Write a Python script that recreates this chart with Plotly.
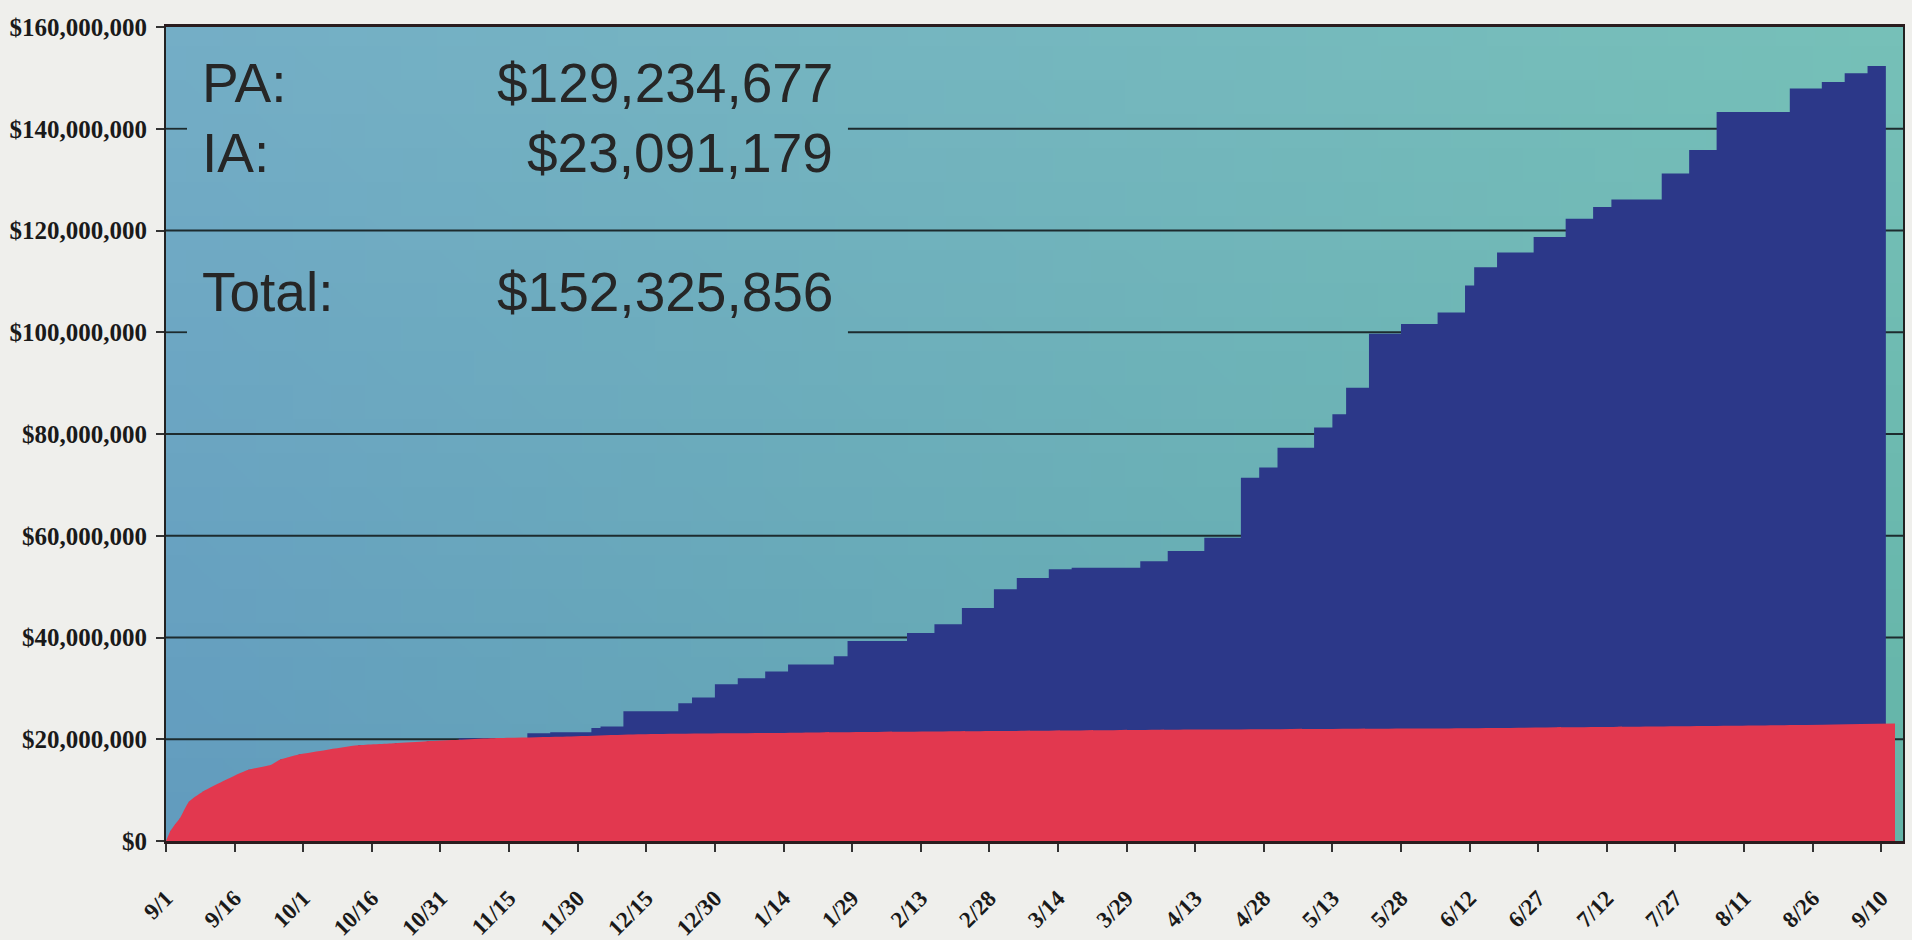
import base64
import struct
import zlib

import plotly.graph_objects as go

# Cumulative obligations (millions of dollars), step changes of the running total
total_dates = [
    "2003-09-01", "2003-09-02", "2003-09-03", "2003-09-04", "2003-09-06", "2003-09-09",
    "2003-09-14", "2003-09-19", "2003-09-24", "2003-09-26", "2003-09-30", "2003-10-06",
    "2003-10-13", "2003-10-21", "2003-10-28", "2003-11-04", "2003-11-19", "2003-11-24",
    "2003-12-03", "2003-12-05", "2003-12-10", "2003-12-22", "2003-12-25", "2003-12-30",
    "2004-01-04", "2004-01-10", "2004-01-15", "2004-01-25", "2004-01-28", "2004-02-10",
    "2004-02-16", "2004-02-22", "2004-02-29", "2004-03-05", "2004-03-12", "2004-03-17",
    "2004-04-01", "2004-04-07", "2004-04-15", "2004-04-23", "2004-04-27", "2004-05-01",
    "2004-05-09", "2004-05-13", "2004-05-16", "2004-05-21", "2004-05-28", "2004-06-05",
    "2004-06-11", "2004-06-13", "2004-06-18", "2004-06-26", "2004-07-03", "2004-07-09",
    "2004-07-13", "2004-07-24", "2004-07-30", "2004-08-05", "2004-08-21", "2004-08-28",
    "2004-09-02", "2004-09-07", "2004-09-11",
]
total_musd = [
    0.0, 2.0, 3.3, 4.4, 7.7, 9.7,
    12.0, 14.0, 14.6, 16.0, 17.0, 17.9,
    18.8, 19.2, 19.6, 20.2, 21.2, 21.4,
    22.2, 22.5, 25.5, 27.1, 28.2, 30.8,
    32.0, 33.3, 34.7, 36.3, 39.3, 40.9,
    42.6, 45.8, 49.5, 51.7, 53.4, 53.7,
    55.0, 57.0, 59.6, 71.4, 73.4, 77.3,
    81.3, 83.9, 89.1, 99.7, 101.6, 103.9,
    109.2, 112.8, 115.7, 118.7, 122.3, 124.6,
    126.1, 131.2, 135.8, 143.3, 147.9, 149.2,
    150.9, 152.325856, 152.325856,
]

# Individual Assistance (IA), cumulative, millions of dollars
ia_dates = [
    "2003-09-01", "2003-09-02", "2003-09-03", "2003-09-04", "2003-09-06", "2003-09-09",
    "2003-09-14", "2003-09-19", "2003-09-24", "2003-09-26", "2003-09-30", "2003-10-06",
    "2003-10-13", "2003-10-21", "2003-10-28", "2003-11-04", "2003-11-11", "2003-11-26",
    "2003-12-14", "2004-01-18", "2004-03-01", "2004-04-14", "2004-05-31", "2004-07-10",
    "2004-08-23", "2004-09-13",
]
ia_musd = [
    0.0, 2.0, 3.3, 4.4, 7.7, 9.7,
    12.0, 14.0, 15.0, 16.0, 17.0, 17.9,
    18.8, 19.2, 19.6, 19.9, 20.2, 20.5,
    21.0, 21.3, 21.6, 21.9, 22.1, 22.4,
    22.8, 23.091179,
]

tick_dates = [
    "2003-09-01", "2003-09-16", "2003-10-01", "2003-10-16", "2003-10-31", "2003-11-15",
    "2003-11-30", "2003-12-15", "2003-12-30", "2004-01-14", "2004-01-29", "2004-02-13",
    "2004-02-28", "2004-03-14", "2004-03-29", "2004-04-13", "2004-04-28", "2004-05-13",
    "2004-05-28", "2004-06-12", "2004-06-27", "2004-07-12", "2004-07-27", "2004-08-11",
    "2004-08-26", "2004-09-10",
]
tick_labels = [
    "9/1", "9/16", "10/1", "10/16", "10/31", "11/15", "11/30", "12/15", "12/30",
    "1/14", "1/29", "2/13", "2/28", "3/14", "3/29", "4/13", "4/28", "5/13", "5/28",
    "6/12", "6/27", "7/12", "7/27", "8/11", "8/26", "9/10",
]
y_ticks = [0, 20e6, 40e6, 60e6, 80e6, 100e6, 120e6, 140e6, 160e6]

RED = "#e2384f"
NAVY = "#2c3889"
INK = "#262626"
X_END = "2004-09-14 18:00"

total_usd = [v * 1e6 for v in total_musd]
ia_usd = [v * 1e6 for v in ia_musd]
total_final = round(total_usd[-1])
ia_final = round(ia_usd[-1])
pa_final = total_final - ia_final


def gradient_png(w, h, tl, tr, bl, br):
    """Small RGB PNG with a bilinear corner-colour blend, as a data URI."""
    raw = bytearray()
    for j in range(h):
        fy = j / (h - 1)
        raw.append(0)
        for i in range(w):
            fx = i / (w - 1)
            for k in range(3):
                top = tl[k] * (1 - fx) + tr[k] * fx
                bot = bl[k] * (1 - fx) + br[k] * fx
                raw.append(int(round(top * (1 - fy) + bot * fy)))

    def chunk(tag, data):
        return (struct.pack(">I", len(data)) + tag + data
                + struct.pack(">I", zlib.crc32(tag + data) & 0xFFFFFFFF))

    png = (b"\x89PNG\r\n\x1a\n"
           + chunk(b"IHDR", struct.pack(">IIBBBBB", w, h, 8, 2, 0, 0, 0))
           + chunk(b"IDAT", zlib.compress(bytes(raw)))
           + chunk(b"IEND", b""))
    return "data:image/png;base64," + base64.b64encode(png).decode()


bg_uri = gradient_png(48, 24, (116, 174, 198), (118, 192, 184),
                      (98, 156, 190), (100, 180, 168))

fig = go.Figure()

# PA stacked on IA: running total drawn first, IA on top of it
fig.add_trace(go.Scatter(
    x=total_dates, y=total_usd, name="PA", mode="lines",
    line=dict(width=0, shape="hv", color=NAVY),
    fill="tozeroy", fillcolor=NAVY, hoverinfo="skip",
))
fig.add_trace(go.Scatter(
    x=ia_dates, y=ia_usd, name="IA", mode="lines",
    line=dict(width=0, shape="spline", smoothing=0.6, color=RED),
    fill="tozeroy", fillcolor=RED, hoverinfo="skip",
))

# Horizontal gridlines, broken where the summary text block sits
text_blocks = [(126e6, 158e6), (96e6, 117e6)]
block_x = (0.0121, 0.3926)
shapes = []
for yv in y_ticks[1:-1]:
    covered = any(lo <= yv <= hi for lo, hi in text_blocks)
    segments = [(0, block_x[0]), (block_x[1], 1)] if covered else [(0, 1)]
    for x0, x1 in segments:
        shapes.append(dict(
            type="line", xref="paper", yref="y", x0=x0, x1=x1, y0=yv, y1=yv,
            line=dict(color="#1d2b2e", width=1.8), layer="between",
        ))

summary_font = dict(family="Liberation Sans, Arial, sans-serif", size=55, color=INK)
rows = [
    ("PA:", f"${pa_final:,}", 83),
    ("IA:", f"${ia_final:,}", 153),
    ("Total:", f"${total_final:,}", 292),
]
annotations = []
plot_top, plot_h = 27, 814
for label, amount, ypx in rows:
    yp = 1 - (ypx - plot_top) / plot_h
    annotations.append(dict(
        text=label, xref="paper", yref="paper", x=0.0195, y=yp,
        xanchor="left", yanchor="middle", showarrow=False, font=summary_font,
    ))
    annotations.append(dict(
        text=amount, xref="paper", yref="paper", x=0.385, y=yp,
        xanchor="right", yanchor="middle", showarrow=False, font=summary_font,
    ))

y_tick_font = dict(family="Liberation Serif, Times New Roman, serif", size=25,
                   color="#1a1a1a", weight="bold")
x_tick_font = dict(family="Liberation Serif, Times New Roman, serif", size=23,
                   color="#1a1a1a", weight="bold")

fig.update_layout(
    width=1912, height=940,
    margin=dict(l=166, r=9, t=27, b=99),
    paper_bgcolor="#efefec",
    plot_bgcolor="rgba(0,0,0,0)",
    showlegend=False,
    images=[dict(
        source=bg_uri, xref="paper", yref="paper", x=0, y=1, sizex=1, sizey=1,
        xanchor="left", yanchor="top", sizing="stretch", layer="below",
    )],
    shapes=shapes,
    annotations=annotations,
    xaxis=dict(
        type="date", range=["2003-09-01", X_END],
        tickmode="array", tickvals=tick_dates, ticktext=tick_labels,
        tickangle=-45, tickfont=x_tick_font,
        ticks="outside", ticklen=8, tickwidth=2, tickcolor="#333333",
        ticklabelstandoff=24, automargin=False,
        showgrid=False, zeroline=False,
        showline=True, linecolor="#2a1c1e", linewidth=2.5, mirror=True,
    ),
    yaxis=dict(
        range=[0, 160e6], tickmode="array", tickvals=y_ticks,
        tickformat="$,.0f", tickfont=y_tick_font,
        ticks="outside", ticklen=8, tickwidth=2, tickcolor="#333333",
        ticklabelstandoff=4, automargin=False,
        showgrid=False, zeroline=False,
        showline=True, linecolor="#222222", linewidth=2, mirror=True,
    ),
)

fig.write_html("out.html")
